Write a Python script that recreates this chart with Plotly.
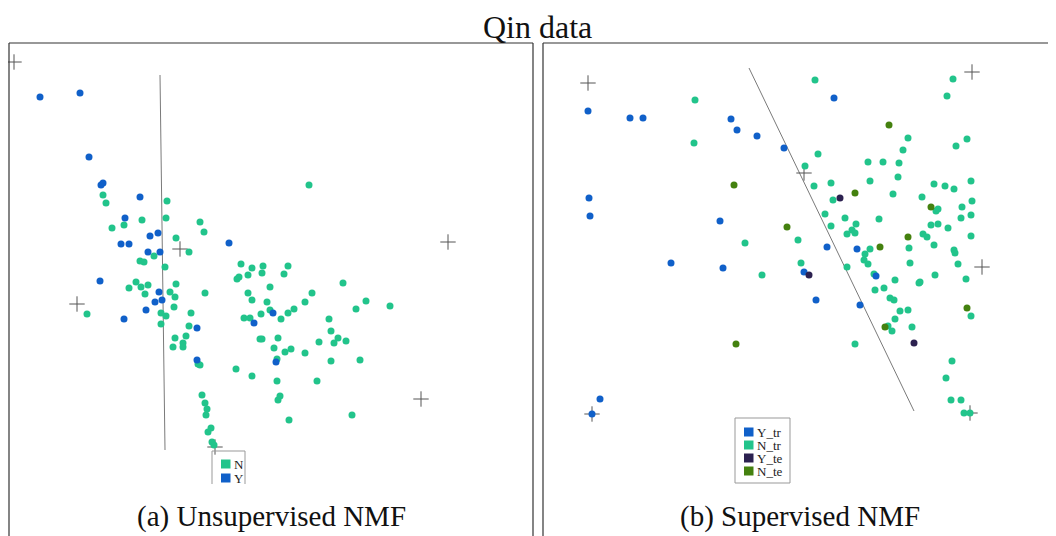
import plotly.graph_objects as go

# ---- Panel (a): Unsupervised NMF, projected coordinates (plot units) ----
a_Y = [(40,97),(80,93),(89,157),(101,185),(103,183),(140,197),(125,218),(150,236),(158,233),
       (121,244),(129,244),(229,243),(148,252),(160,252),(100,281),(159,292),(155,302),(162,300),
       (146,310),(124,319),(197,328),(254,323),(273,313),(197,360),(276,362)]
a_N = [(103,195),(106,203),(167,201),(124,225),(142,220),(166,218),(112,228),(200,222),(204,232),
       (176,238),(189,252),(154,256),(140,261),(144,262),(165,267),(241,264),(252,268),(263,266),
       (288,266),(248,275),(262,273),(284,274),(237,279),(239,277),(270,287),(343,283),(309,185),
       (136,282),(129,288),(141,287),(148,285),(176,284),(145,294),(170,292),(175,297),(205,293),
       (87,314),(174,307),(161,313),(166,316),(191,313),(161,324),(189,326),(175,338),(186,336),
       (183,343),(173,347),(183,347),(248,293),(252,300),(267,302),(312,293),(305,302),(366,301),
       (356,309),(390,306),(261,314),(270,310),(288,313),(294,309),(244,318),(250,318),(281,319),
       (329,319),(260,339),(262,339),(278,338),(331,331),(338,338),(334,343),(319,342),(346,341),
       (274,348),(285,352),(291,349),(305,353),(277,359),(331,361),(360,360),(198,364),(200,365),
       (236,369),(252,376),(277,381),(317,381),(280,396),(278,400),(202,395),(205,403),(207,409),
       (206,415),(352,415),(289,420),(211,428),(208,432),(212,442),(214,445)]
a_centers = [(14,62),(180,249),(448,242),(77,304),(421,399),(215,447)]
a_boundary = [(160,75),(165,450)]

# ---- Panel (b): Supervised NMF ----
b_Ytr = [(588,111),(630,118),(643,118),(731,119),(737,130),(757,136),(784,148),(834,98),(589,198),
         (590,216),(720,221),(671,263),(723,268),(827,247),(857,249),(804,272),(816,300),(860,305),
         (876,276),(600,399),(592,414)]
b_Ntr = [(695,100),(694,143),(745,243),(798,240),(762,275),(815,80),(953,79),(947,96),(908,138),
         (903,150),(967,139),(956,146),(818,154),(805,166),(868,162),(883,162),(899,163),(870,181),
         (898,177),(814,186),(831,183),(833,200),(893,194),(934,184),(945,186),(954,189),(971,181),
         (922,197),(938,209),(936,211),(962,207),(972,201),(825,214),(845,218),(879,219),(961,218),
         (971,215),(831,226),(856,224),(852,230),(855,233),(847,234),(931,225),(938,224),(948,228),
         (923,234),(927,237),(971,236),(934,245),(870,249),(909,248),(865,254),(864,260),(954,250),
         (955,253),(801,263),(868,264),(910,263),(958,264),(847,267),(874,274),(895,280),(935,275),
         (966,279),(919,283),(920,282),(875,290),(884,288),(890,298),(894,300),(900,311),(908,310),
         (895,319),(971,316),(888,326),(892,331),(912,327),(855,344),(952,361),(946,378),(951,400),
         (961,400),(964,413),(970,413)]
b_Yte = [(840,198),(809,275),(914,343)]
b_Nte = [(889,125),(734,185),(787,227),(855,193),(931,207),(908,237),(880,247),(967,308),
         (885,327),(736,344)]
b_centers = [(588,83),(972,72),(804,173),(982,267),(970,413),(592,414)]
b_boundary = [(749,68),(914,411)]

legend_a = ["N", "Y"]
legend_b = ["Y_tr", "N_tr", "Y_te", "N_te"]

BLUE = "#1060c9"
GREEN = "#22c48b"
PURPLE = "#2c2150"
DKGREEN = "#44810f"
GRAY = "#555555"
SERIF = "Liberation Serif, DejaVu Serif, serif"

# the page body has an 8px margin, so the figure starts at page pixel 8
OFF = 8

fig = go.Figure()

def pts(lst, color, name):
    fig.add_trace(go.Scatter(x=[p[0] for p in lst], y=[p[1] for p in lst], mode="markers",
                             marker=dict(size=7, color=color, line=dict(width=0)),
                             name=name, showlegend=False))

def line(lst):
    fig.add_trace(go.Scatter(x=[p[0] for p in lst], y=[p[1] for p in lst], mode="lines",
                             line=dict(color="#7a7a7a", width=1), showlegend=False))

def crosses(lst):
    fig.add_trace(go.Scatter(x=[p[0] for p in lst], y=[p[1] for p in lst], mode="markers",
                             marker=dict(symbol="cross-thin", size=11,
                                         line=dict(color=GRAY, width=1)),
                             showlegend=False))

line(a_boundary)
line(b_boundary)
crosses(a_centers)
crosses(b_centers)
pts(a_N, GREEN, "N")
pts(a_Y, BLUE, "Y")
pts(b_Ntr, GREEN, "N_tr")
pts(b_Ytr, BLUE, "Y_tr")
pts(b_Yte, PURPLE, "Y_te")
pts(b_Nte, DKGREEN, "N_te")

shapes = []
def seg(x0, y0, x1, y1, color="#333333", w=1.2):
    shapes.append(dict(type="line", xref="x", yref="y", x0=x0, y0=y0, x1=x1, y1=y1,
                       line=dict(color=color, width=w)))

# panel frames
seg(9, 43, 533, 43); seg(9, 43, 9, 540); seg(533, 43, 533, 540)
seg(543, 43, 1060, 43); seg(543, 43, 543, 540)
# legend (a) box (clipped at bottom)
seg(212, 451, 245, 451, "#999999", 1); seg(212, 451, 212, 484, "#999999", 1); seg(245, 451, 245, 484, "#999999", 1)
# legend (b) box
shapes.append(dict(type="rect", xref="x", yref="y", x0=735, y0=418, x1=790, y1=483,
                   line=dict(color="#999999", width=1)))

annotations = []
def swatch(x, y, color):
    shapes.append(dict(type="rect", xref="x", yref="y", x0=x-5, y0=y-4.5, x1=x+4.5, y1=y+4.5,
                       line=dict(width=0), fillcolor=color))

for lbl, col, yy in zip(legend_a, [GREEN, BLUE], [464, 478]):
    swatch(226, yy, col)
    annotations.append(dict(x=232, y=yy, xref="x", yref="y", text=lbl, showarrow=False,
                            xanchor="left", yanchor="middle", font=dict(family=SERIF, size=13, color="#222")))
for lbl, col, yy in zip(legend_b, [BLUE, GREEN, PURPLE, DKGREEN], [432, 445, 458, 471]):
    swatch(749, yy, col)
    annotations.append(dict(x=755, y=yy, xref="x", yref="y", text=lbl, showarrow=False,
                            xanchor="left", yanchor="middle", font=dict(family=SERIF, size=13, color="#222")))

annotations.append(dict(x=537, y=27, xref="x", yref="y", text="Qin data", showarrow=False,
                        xanchor="center", yanchor="middle", font=dict(family=SERIF, size=32, color="#111")))
annotations.append(dict(x=271, y=516, xref="x", yref="y", text="(a) Unsupervised NMF", showarrow=False,
                        xanchor="center", yanchor="middle", font=dict(family=SERIF, size=29, color="#111")))
annotations.append(dict(x=800, y=516, xref="x", yref="y", text="(b) Supervised NMF", showarrow=False,
                        xanchor="center", yanchor="middle", font=dict(family=SERIF, size=29, color="#111")))

fig.update_layout(
    width=1056 - OFF, height=536 - OFF, margin=dict(l=0, r=0, t=0, b=0),
    paper_bgcolor="white", plot_bgcolor="white",
    xaxis=dict(range=[OFF, 1056], visible=False, fixedrange=True),
    yaxis=dict(range=[536, OFF], visible=False, fixedrange=True),
    shapes=shapes, annotations=annotations, showlegend=False,
)

fig.write_html("out.html")
